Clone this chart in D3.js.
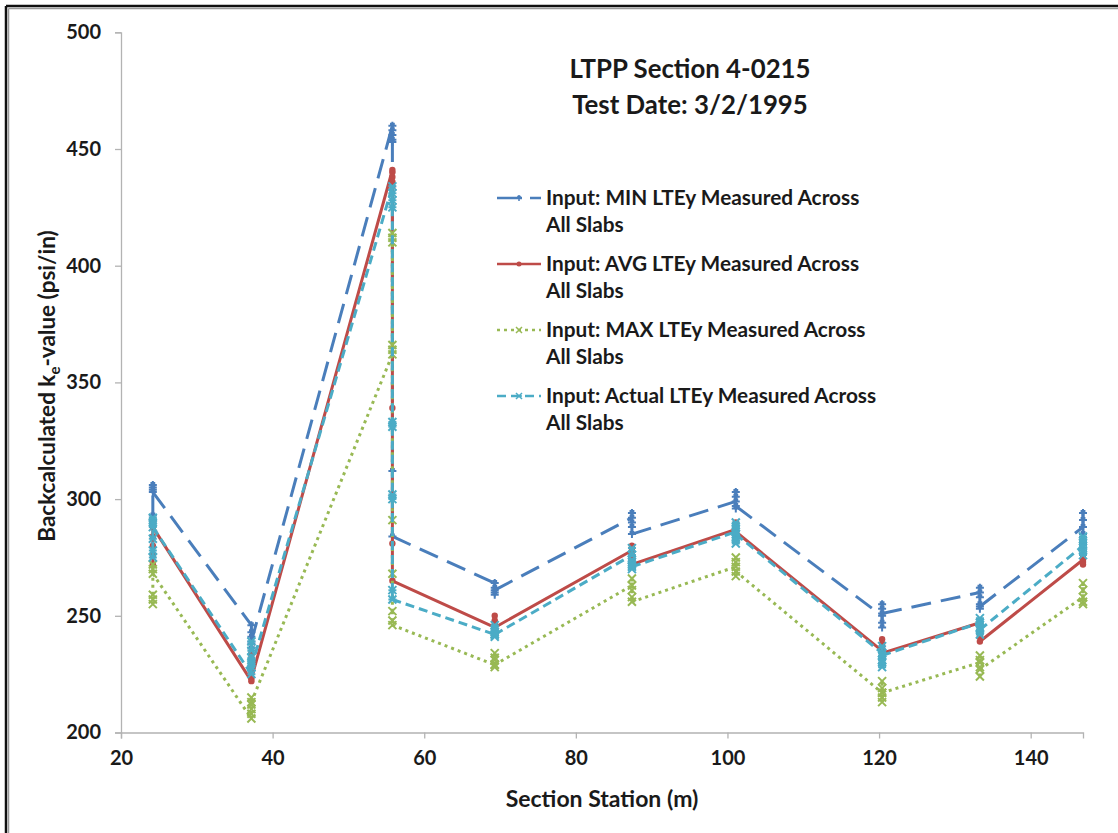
<!DOCTYPE html>
<html>
<head>
<meta charset="utf-8">
<script src="https://cdn.jsdelivr.net/npm/d3@7"></script>
<style>
  html, body { margin: 0; padding: 0; background: #fff; }
  svg { display: block; }
  text { font-family: Lato, "Open Sans", "Liberation Sans", sans-serif; font-weight: bold; fill: #1a1a1a; }
</style>
</head>
<body>
<svg id="chart" width="1118" height="833"></svg>
<script>
// Section stations (m)
const stations = [24.2, 37.2, 55.8, 69.3, 87.4, 101.1, 120.4, 133.3, 146.9];

// Backcalculated k-values (psi/in), several slabs per station, in drop order
const minLTE = [
  [291, 293, 306, 305, 304, 303],
  [246, 243, 241, 238, 236, 239],
  [460, 458, 456, 454, 453, 312, 284],
  [264, 262, 260, 259, 261],
  [292, 294, 290, 288, 285],
  [299, 303, 301, 296, 297],
  [250, 255, 253, 247, 245, 251],
  [260, 262, 258, 255, 253, 254],
  [288, 294, 291, 285, 281]
];
const avgLTE = [
  [272, 276, 280, 284, 290, 289, 288],
  [222, 228, 232, 234, 226, 223],
  [441, 440, 438, 436, 434, 339, 281, 265],
  [245, 247, 250, 248, 245],
  [278, 280, 276, 274, 272],
  [287, 290, 284, 282, 286],
  [235, 238, 240, 236, 234],
  [247, 245, 243, 241, 239],
  [274, 276, 273, 272]
];
const maxLTE = [
  [255, 257, 259, 272, 270, 268],
  [206, 208, 210, 212, 215, 213],
  [362, 364, 366, 412, 414, 410, 291, 268, 252, 248, 246],
  [229, 231, 234, 232, 228, 229],
  [263, 266, 261, 258, 256],
  [271, 275, 273, 267, 269],
  [217, 222, 219, 213, 215, 217],
  [230, 233, 231, 228, 224, 227],
  [258, 264, 261, 256, 255]
];
const actualLTE = [
  [275, 278, 283, 292, 290, 288],
  [225, 230, 235, 239, 232, 228],
  [434, 431, 428, 425, 333, 331, 302, 300, 261, 257],
  [242, 244, 246, 243, 241, 242],
  [276, 279, 274, 272, 270, 271],
  [286, 290, 288, 283, 281, 285],
  [234, 237, 231, 228, 230, 233],
  [247, 249, 245, 242, 244],
  [280, 284, 282, 278, 276]
];

const seriesNames = [
  "Input: MIN LTEy Measured Across",
  "Input: AVG LTEy Measured Across",
  "Input: MAX LTEy Measured Across",
  "Input: Actual LTEy Measured Across"
];
const seriesNames2 = "All Slabs";
const xTicks = [20, 40, 60, 80, 100, 120, 140];
const yTicks = [200, 250, 300, 350, 400, 450, 500];

const styles = [
  { color: "#4A7EBB", dash: "20,10", marker: "plus" },
  { color: "#BE4B48", dash: null, marker: "dot" },
  { color: "#98B954", dash: "3,4", marker: "cross" },
  { color: "#4BACC6", dash: "9,5", marker: "star" }
];
const allSeries = [minLTE, avgLTE, maxLTE, actualLTE];

const svg = d3.select("#chart");

// frame edges on the left and top
svg.append("line").attr("x1", 6).attr("x2", 6).attr("y1", 6).attr("y2", 833).attr("stroke", "#111").attr("stroke-width", 2.5);
svg.append("line").attr("x1", 6).attr("x2", 1118).attr("y1", 6).attr("y2", 6).attr("stroke", "#111").attr("stroke-width", 2.5);
svg.append("line").attr("x1", 8.5).attr("x2", 8.5).attr("y1", 8.5).attr("y2", 833).attr("stroke", "#9a9a9a").attr("stroke-width", 1.5);
svg.append("line").attr("x1", 8.5).attr("x2", 1118).attr("y1", 8.5).attr("y2", 8.5).attr("stroke", "#9a9a9a").attr("stroke-width", 1.5);

const x = d3.scaleLinear().domain([20, 146.9]).range([121, 1083]);
const y = d3.scaleLinear().domain([200, 500]).range([732.5, 32.3]);

// axes
const xAxis = svg.append("g").attr("transform", "translate(0,732.5)")
  .call(d3.axisBottom(x).tickValues(xTicks).tickSize(6).tickPadding(9));
const yAxis = svg.append("g").attr("transform", "translate(121,0)")
  .call(d3.axisLeft(y).tickValues(yTicks).tickSize(6).tickPadding(14));
[xAxis, yAxis].forEach(a => {
  a.selectAll("path, line").attr("stroke", "#b3b3b3").attr("stroke-width", 1.3);
  a.selectAll("text").style("font-size", "20px").attr("fill", "#1a1a1a");
});
xAxis.selectAll("text").attr("dy", "0.85em");

// axis titles
svg.append("text").attr("x", 602).attr("y", 807).attr("text-anchor", "middle")
  .style("font-size", "23px").text("Section Station (m)");
const yt = svg.append("text").attr("transform", "translate(55,386) rotate(-90)")
  .attr("text-anchor", "middle").style("font-size", "22.5px");
yt.append("tspan").text("Backcalculated k");
yt.append("tspan").attr("dy", 5).style("font-size", "15px").text("e");
yt.append("tspan").attr("dy", -5).text("-value (psi/in)");

// chart title
svg.append("text").attr("x", 690).attr("y", 78).attr("text-anchor", "middle").style("font-size", "25.8px").text("LTPP Section 4-0215");
svg.append("text").attr("x", 690).attr("y", 114).attr("text-anchor", "middle").style("font-size", "25.8px").text("Test Date: 3/2/1995");

function markerPath(type, s) {
  const h = s / 2;
  switch (type) {
    case "plus": return `M${-h},0H${h}M0,${-h}V${h}M${-h * 0.6},${-h * 0.5}H${h * 0.6}`;
    case "cross": return `M${-h},${-h}L${h},${h}M${-h},${h}L${h},${-h}`;
    case "star": return `M${-h},${-h}L${h},${h}M${-h},${h}L${h},${-h}M${-h},0H${h}`;
    default: return `M${-h},0H${h}`;
  }
}

allSeries.forEach((ser, i) => {
  const st = styles[i];
  const pts = [];
  ser.forEach((vals, k) => vals.forEach(v => pts.push([stations[k], v])));
  const segs = d3.pairs(pts);
  const g = svg.append("g");
  // each segment is stroked on its own so the dash pattern starts afresh at every point
  g.selectAll("line.seg").data(segs).join("line").attr("class", "seg")
    .attr("x1", d => x(d[0][0])).attr("y1", d => y(d[0][1]))
    .attr("x2", d => x(d[1][0])).attr("y2", d => y(d[1][1]))
    .attr("stroke", st.color).attr("stroke-width", 3)
    .attr("stroke-linecap", st.dash ? "butt" : "round")
    .attr("stroke-dasharray", st.dash);
  if (st.marker === "dot") {
    g.selectAll("circle").data(pts).join("circle")
      .attr("cx", d => x(d[0])).attr("cy", d => y(d[1])).attr("r", 3.2)
      .attr("fill", st.color);
  } else {
    g.selectAll("path.mk").data(pts).join("path").attr("class", "mk")
      .attr("transform", d => `translate(${x(d[0])},${y(d[1])})`)
      .attr("d", markerPath(st.marker, 8))
      .attr("fill", "none").attr("stroke", st.color).attr("stroke-width", 2);
  }
});

// legend
const leg = svg.append("g");
const legTop = [198, 264, 330, 396];
seriesNames.forEach((name, i) => {
  const st = styles[i];
  const yy = legTop[i];
  leg.append("line").attr("x1", 497).attr("x2", 541).attr("y1", yy).attr("y2", yy)
    .attr("stroke", st.color).attr("stroke-width", 2.5).attr("stroke-dasharray", st.dash === "20,10" ? "25,8" : st.dash);
  if (st.marker === "dot") {
    leg.append("circle").attr("cx", 519).attr("cy", yy).attr("r", 2.5).attr("fill", st.color);
  } else {
    leg.append("path").attr("transform", `translate(519,${yy})`).attr("d", markerPath(st.marker, 6))
      .attr("fill", "none").attr("stroke", st.color).attr("stroke-width", 1.5);
  }
  leg.append("text").attr("x", 546).attr("y", yy + 7).style("font-size", "20.8px").text(name);
  leg.append("text").attr("x", 546).attr("y", yy + 34).style("font-size", "20.8px").text(seriesNames2);
});
</script>
</body>
</html>
